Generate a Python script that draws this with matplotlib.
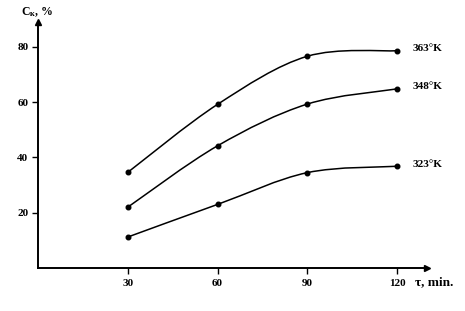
import numpy as np
import matplotlib
matplotlib.use("Agg")
import matplotlib.pyplot as plt
from matplotlib.path import Path
from matplotlib.patches import PathPatch

plt.rcParams['font.family'] = ['Liberation Serif', 'DejaVu Serif']
plt.rcParams['font.weight'] = 'bold'
plt.rcParams['mathtext.fontset'] = 'custom'
plt.rcParams['mathtext.rm'] = 'Liberation Serif:bold'
plt.rcParams['mathtext.bf'] = 'Liberation Serif:bold'

# data
minutes = [30, 60, 90, 120]
c_363 = [34.6, 59.2, 76.6, 78.6]
c_348 = [22.0, 44.2, 59.3, 64.8]
c_323 = [11.2, 23.0, 34.5, 36.8]
series = [("363°K", c_363), ("348°K", c_348), ("323°K", c_323)]
xticks = [30, 60, 90, 120]
yticks = [20, 40, 60, 80]


def smooth_path(x, y):
    # catmull-rom style bezier through the measured points
    x = np.asarray(x, float)
    y = np.asarray(y, float)
    pts = np.column_stack([x, y])
    verts = [pts[0]]
    codes = [Path.MOVETO]
    n = len(pts)
    for i in range(n - 1):
        p0 = pts[i - 1] if i > 0 else pts[i]
        p1 = pts[i]
        p2 = pts[i + 1]
        p3 = pts[i + 2] if i + 2 < n else pts[i + 1]
        c1 = p1 + (p2 - p0) / 6.0
        c2 = p2 - (p3 - p1) / 6.0
        verts += [c1, c2, p2]
        codes += [Path.CURVE4] * 3
    return Path(verts, codes)


fig = plt.figure(figsize=(4.65, 3.11), dpi=100)
ax = fig.add_axes([0.0817, 0.1383, 0.8366, 0.791])
ax.set_xlim(0, 130)
ax.set_ylim(0, 89)

for name, vals in series:
    ax.add_patch(PathPatch(smooth_path(minutes, vals), fill=False, lw=1.1, color='black'))
    ax.plot(minutes, vals, 'o', color='black', ms=3.3)
    ax.text(125.3, vals[-1] + 0.8, name, fontsize=8, va='center', ha='left')

for s in ['top', 'right']:
    ax.spines[s].set_visible(False)
for s in ['left', 'bottom']:
    ax.spines[s].set_linewidth(1.4)

# arrow heads
ax.plot(1, 0, '>', color='black', ms=4, transform=ax.transAxes, clip_on=False)
ax.plot(0, 1, '^', color='black', ms=4, transform=ax.transAxes, clip_on=False)

ax.set_xticks(xticks)
ax.set_yticks(yticks)
ax.tick_params(direction='out', length=4, width=1, labelsize=8)
ax.tick_params(axis='x', pad=4)
ax.tick_params(axis='y', pad=3)

ax.text(0.969, -0.058, 'τ, min.', transform=ax.transAxes, fontsize=9.5, ha='left', va='center')
fig.text(0.045, 0.961, r'$\mathbf{C_{к}}$, %', fontsize=8.5, ha='left', va='center')

fig.savefig("out.png", dpi=100)
